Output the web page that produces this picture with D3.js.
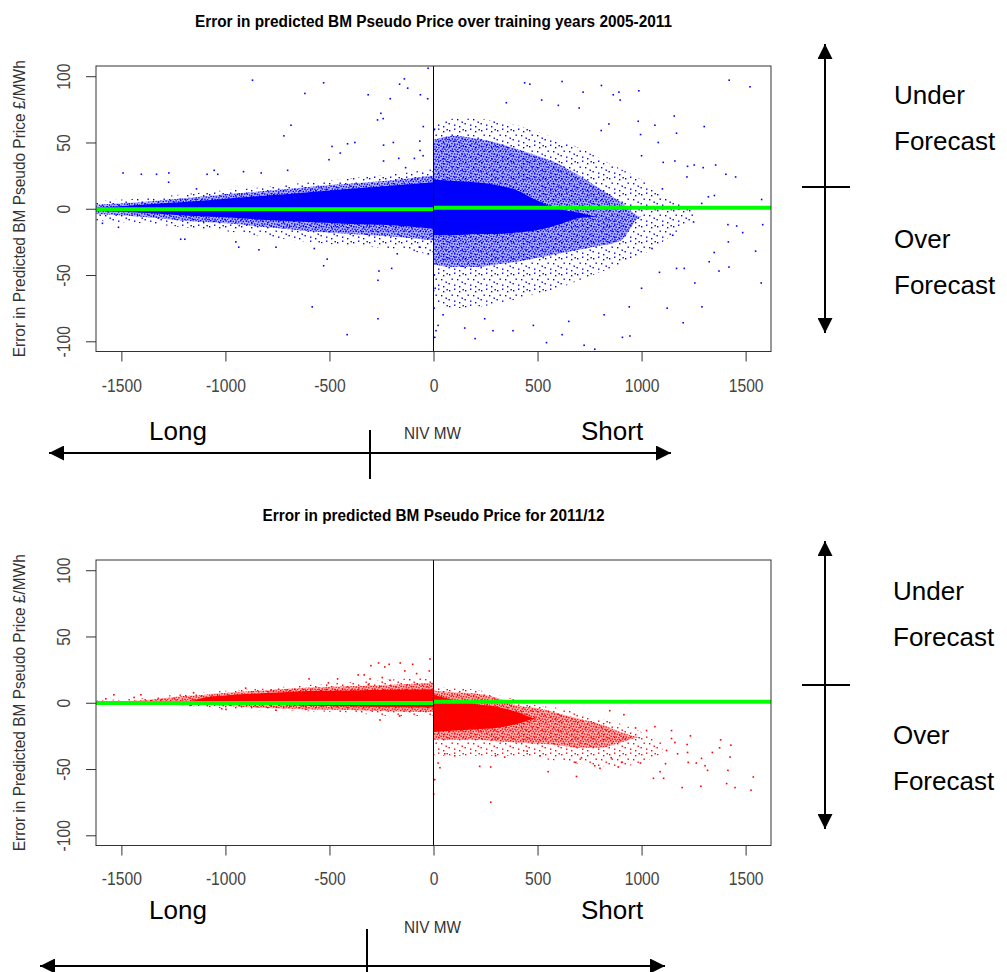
<!DOCTYPE html>
<html>
<head>
<meta charset="utf-8">
<script src="https://cdn.jsdelivr.net/npm/d3@7"></script>
<style>
  body { margin: 0; background: #fff; }
  svg { display: block; font-family: Arial, "Liberation Sans", sans-serif; }
</style>
</head>
<body>
<svg id="chart" width="1007" height="972"></svg>
<script>
// ---- axis ticks ----
const xTicks = [-1500, -1000, -500, 0, 500, 1000, 1500];
const yTicks = [-100, -50, 0, 50, 100];

// ---- training years 2005-2011 (blue cloud) ----
// density bands per NIV position: core = solid, mid = dense speckle, outer = sparse speckle
const trainLongNiv    = [-1622, -1400, -1200, -1000, -800, -600, -400, -200, 0];
const trainLongCoreHi = [0.8, 3, 5, 7.5, 10, 12.5, 15, 17.5, 20];
const trainLongCoreLo = [-1.5, -3, -5, -6.5, -8.5, -10, -11.5, -12.5, -15];
const trainLongMidHi  = [3, 5, 8, 11, 13.5, 16.5, 19, 21.5, 25];
const trainLongMidLo  = [-4, -6, -9, -11, -14, -17, -19, -21, -24];
const trainLongOutHi  = [6, 8, 11, 14, 16.5, 20, 23, 26, 30];
const trainLongOutLo  = [-9, -11, -14, -17, -21, -25, -28, -30, -35];

const trainShortNiv    = [0, 100, 200, 300, 400, 500, 600, 700, 800, 900, 1000, 1100, 1250];
const trainShortCoreHi = [22, 21, 20, 18, 14, 6, 0, -3, -6, -6, -6, -6, -6];
const trainShortCoreLo = [-20, -20, -19, -19, -18, -16, -12, -7, -6, -6, -6, -6, -6];
const trainShortMidHi  = [52, 55, 53, 50, 45, 40, 34, 25, 15, 5, -6, -6, -6];
const trainShortMidLo  = [-42, -44, -44, -42, -40, -37, -34, -31, -28, -24, -6, -6, -6];
const trainShortOutHi  = [62, 68, 68, 66, 63, 58, 52, 46, 38, 30, 22, 10, 0];
const trainShortOutLo  = [-70, -75, -74, -72, -68, -64, -60, -54, -48, -42, -35, -25, -8];

const trainGreen = [-0.3, 0.8];   // fitted level, long side / short side

const trainPoints = [
  [-870, 97], [-528, 95], [-618, 87], [-314, 86], [-208, 83], [-163, 94], [-140, 98], [-124, 91],
  [-63, 86], [-28, 83], [-26, 106], [-253, 72], [-269, 67], [-242, 68], [-685, 63], [-719, 55],
  [-378, 50], [-413, 49], [-488, 47], [-448, 42], [-240, 48], [-193, 50], [-66, 51], [-65, 44],
  [-49, 62], [-167, 38], [-240, 36], [-502, 37], [-701, 29], [-913, 28], [-828, 27], [-1054, 29],
  [-1037, 26], [-1088, 26], [-1272, 27], [-1331, 26], [-1404, 26], [-1492, 27], [-1273, 20], [-1139, 15],
  [-92, 38], [-50, 40], [-134, 31],
  [-1514, -14], [-1591, -11], [-1215, -23], [-1195, -23], [-950, -25], [-936, -29], [-839, -31], [-757, -29],
  [-573, -30], [-511, -38], [-528, -43], [-201, -45], [-262, -47], [-267, -54], [-583, -74], [-267, -83],
  [-415, -95], [-174, -34], [-25, -34], [-68, -29],
  [1421, 97], [1521, 92], [438, 95], [463, 94], [618, 96], [807, 93], [719, 88], [864, 86],
  [891, 88], [987, 89], [1157, 70], [1301, 62], [1168, 57], [1104, 35], [1221, 32], [1296, 31],
  [1356, 33], [1405, 26], [1452, 24], [1218, 24], [1160, 36], [1289, 4], [1415, -12], [1457, -13],
  [1582, -12], [1349, -33], [1548, -32], [1420, -44], [1372, -47], [1256, -56], [1290, -74], [1200, -86],
  [1123, -75], [1575, -56], [944, -96], [908, -97], [775, -106], [724, -103], [618, -95], [543, -101],
  [382, -92], [286, -92], [246, -83], [22, -88], [46, -80], [941, -74], [1086, -48], [1168, -45],
  [1205, -45], [1325, -40], [1417, -25], [1486, -18], [1321, 9], [1577, 7], [1553, 1], [1481, 1],
  [1253, 33], [1064, 63], [995, 56], [843, 64], [897, 82], [984, 66], [806, 59],
  [5, 60], [8, -60], [3, -75], [12, -92], [6, -97], [4, -50],
  [350, 80], [520, 82], [600, 78], [700, 76], [150, -90], [200, -98], [480, -88], [650, -85],
  [820, -80], [1000, -60], [1050, -30], [1100, 15], [1150, -20], [1000, 40], [1080, 50], [1250, -10],
  [1350, 10], [1180, 0]
];

// ---- 2011/12 (red cloud) ----
const testLongNiv    = [-1622, -1350, -1200, -1100, -1000, -800, -600, -400, -200, 0];
const testLongCoreHi = [0, 0, 0.5, 4, 5.5, 7.3, 8.8, 9.3, 9.8, 10];
const testLongCoreLo = [0, 0, 0.5, 0, -0.8, -1.5, -2.3, -2.8, -3.3, -3.5];
const testLongMidHi  = [0.5, 2.5, 5, 6, 7.5, 9.5, 11.5, 12.5, 13.5, 15];
const testLongMidLo  = [0, -0.5, -1, -1.5, -2.5, -4, -5, -5.5, -6.5, -7];
const testLongOutHi  = [2, 4, 7, 8, 9, 11, 13.5, 15.5, 17.5, 20];
const testLongOutLo  = [1, 0, -2, -3, -4.5, -6, -6.5, -7.5, -10, -10];

const testShortNiv    = [0, 100, 200, 300, 400, 500, 600, 700, 800, 900, 1000, 1100];
const testShortCoreHi = [6, 2, -1, -3, -7, -12, -12, -12, -12, -12, -12, -12];
const testShortCoreLo = [-22, -21, -20, -19, -16, -12, -12, -12, -12, -12, -12, -12];
const testShortMidHi  = [9, 8, 7, 4, -2, -4, -8, -12, -16, -22, -26, -26];
const testShortMidLo  = [-28, -28, -28, -29, -30, -31, -32, -34, -34, -30, -26, -26];
const testShortOutHi  = [12, 11, 10, 6, 2, -2, -4, -8, -12, -16, -22, -30];
const testShortOutLo  = [-40, -40, -40, -40, -40, -42, -44, -46, -48, -48, -45, -38];

const testGreen = [-0.1, 0.7];

const testPoints = [
  [-1575, 3], [-1536, 6], [-1439, 4], [-1406, 6], [-1355, 1.5], [-1170, -2], [-1153, 7.5], [-1018, -4.5],
  [-997, -5], [-903, 11], [-757, -5.6], [-754, -3.3], [-598, 18], [-613, -5], [-505, 15], [-461, 18],
  [-362, 21], [-333, 21], [-301, 28], [-264, 30], [-234, 27], [-213, 29], [-160, 30], [-138, 24],
  [-100, 29], [-81, 22], [-17, 33], [-20, 24], [-257, -13], [-163, -10], [-246, 19], [-209, 17],
  [-313, 13.5], [-305, 18],
  [847, -6], [915, -9], [971, -19], [1024, -21], [1064, -18], [1144, -21], [1235, -25], [1144, -27],
  [1160, -30], [1219, -31.5], [1120, -36], [1173, -38.5], [1221, -37.5], [1288, -42], [1340, -37.5], [1380, -28],
  [1429, -32], [1375, -34], [1425, -41], [1224, -45], [1263, -45.5], [1305, -47.5], [1317, -51], [1415, -51],
  [1537, -56], [1526, -66], [1449, -64], [1409, -61], [1285, -63], [1195, -64], [1106, -57], [1057, -57],
  [1115, -46], [1089, -52], [995, -45.5], [904, -45], [888, -48.5], [800, -49.5], [687, -55.6], [551, -52],
  [684, -45], [222, -48], [275, -48.5], [275, -75], [31, -49], [22, -45.5], [6, -58], [1, -69],
  [54, -38.5], [102, -40], [298, -40], [342, -41], [450, -36.5], [512, -40], [775, -47.5], [854, -41.5],
  [711, -41.5]
];

// ---------------------------------------------------------------
const svg = d3.select("#chart");
const defs = svg.append("defs");

// speckle textures for the scattered parts of the clouds
const midDots = [[0, 0], [2.6, 0.8], [5.4, 0.3], [8, 1.2], [1.2, 2.9], [4, 3.3], [6.7, 3.6], [9, 4.4],
  [0.4, 5.6], [2.9, 5.9], [5.6, 6.3], [8.2, 7.1], [1.6, 8.3], [4.3, 8.6], [6.9, 9.1]];
const sparseDots = [[1, 2], [6, 0.5], [11, 3], [14.5, 1], [3.5, 6.5], [9, 7], [13.5, 9.5], [0.5, 11],
  [6, 12.5], [11, 14]];

function speckle(id, color, size, dots, tint) {
  const p = defs.append("pattern")
    .attr("id", id)
    .attr("patternUnits", "userSpaceOnUse")
    .attr("width", size)
    .attr("height", size);
  if (tint) p.append("rect").attr("width", size).attr("height", size)
    .attr("fill", color).attr("fill-opacity", tint);
  dots.forEach(d => p.append("rect")
    .attr("x", d[0]).attr("y", d[1])
    .attr("width", 1.4).attr("height", 1.4)
    .attr("fill", color));
}

const xScale = d3.scaleLinear().domain([-1622, 1622]).range([96, 771]);

function compress(sel, k) {
  sel.each(function () {
    const w = this.getComputedTextLength();
    this.setAttribute("textLength", w * k);
    this.setAttribute("lengthAdjust", "spacingAndGlyphs");
  });
}

function panel(cfg) {
  const x = xScale;
  const y = d3.scaleLinear().domain([-107.7, 107.7]).range([cfg.bottom, cfg.top]);

  speckle(cfg.key + "-mid", cfg.color, 10, midDots, 0.3);
  speckle(cfg.key + "-sparse", cfg.color, 16, sparseDots, 0);

  defs.append("clipPath").attr("id", cfg.key + "-clip")
    .append("rect")
    .attr("x", x.range()[0]).attr("y", cfg.top)
    .attr("width", x.range()[1] - x.range()[0])
    .attr("height", cfg.bottom - cfg.top);

  const g = svg.append("g");
  const plot = g.append("g").attr("clip-path", `url(#${cfg.key}-clip)`);

  cfg.sides.forEach(s => {
    const band = (hi, lo) => d3.area()
      .x((d, i) => x(s.niv[i]))
      .y0((d, i) => y(lo[i]))
      .y1((d, i) => y(hi[i]))
      .curve(d3.curveMonotoneX)(s.niv);
    plot.append("path").attr("d", band(s.outHi, s.outLo)).attr("fill", `url(#${cfg.key}-sparse)`);
    plot.append("path").attr("d", band(s.midHi, s.midLo)).attr("fill", `url(#${cfg.key}-mid)`);
    plot.append("path").attr("d", band(s.coreHi, s.coreLo)).attr("fill", cfg.color);
  });

  plot.append("g").selectAll("rect")
    .data(cfg.points)
    .join("rect")
    .attr("x", d => x(d[0]) - 0.8)
    .attr("y", d => y(d[1]) - 0.8)
    .attr("width", 1.6)
    .attr("height", 1.6)
    .attr("fill", cfg.color);

  // fitted level (green) on each side of zero
  plot.append("line")
    .attr("x1", x(-1622)).attr("x2", x(0))
    .attr("y1", y(cfg.green[0])).attr("y2", y(cfg.green[0]))
    .attr("stroke", "#00ff00").attr("stroke-width", 4);
  plot.append("line")
    .attr("x1", x(0)).attr("x2", x(1622))
    .attr("y1", y(cfg.green[1])).attr("y2", y(cfg.green[1]))
    .attr("stroke", "#00ff00").attr("stroke-width", 4);

  // vertical line at NIV = 0
  g.append("line")
    .attr("x1", x(0)).attr("x2", x(0))
    .attr("y1", cfg.top).attr("y2", cfg.bottom)
    .attr("stroke", "#000").attr("stroke-width", 1);

  // box
  g.append("rect")
    .attr("x", x.range()[0]).attr("y", cfg.top)
    .attr("width", x.range()[1] - x.range()[0])
    .attr("height", cfg.bottom - cfg.top)
    .attr("fill", "none").attr("stroke", "#333").attr("stroke-width", 1);

  // x axis
  const xa = g.append("g")
    .attr("transform", `translate(0,${cfg.bottom})`)
    .call(d3.axisBottom(x).tickValues(xTicks).tickSize(10).tickPadding(cfg.xPad).tickFormat(d => String(d)))
    .attr("font-size", null).attr("font-family", null);
  xa.select(".domain").remove();
  xa.selectAll(".tick line").attr("stroke", "#333");
  xa.selectAll(".tick text")
    .attr("font-size", 18).attr("fill", "#444")
    .call(compress, 0.87);

  // y axis
  const ya = g.append("g")
    .attr("transform", `translate(${x.range()[0]},0)`)
    .call(d3.axisLeft(y).tickValues(yTicks).tickSize(10).tickFormat(d => String(d)))
    .attr("font-size", null).attr("font-family", null);
  ya.select(".domain").remove();
  ya.selectAll(".tick line").attr("stroke", "#333");
  ya.selectAll(".tick text")
    .attr("x", 0).attr("dy", 0)
    .attr("text-anchor", "middle")
    .attr("transform", "translate(-26,0) rotate(-90)")
    .attr("font-size", 18).attr("fill", "#444")
    .call(compress, 0.87);

  // y title
  const cy = (cfg.top + cfg.bottom) / 2;
  g.append("text")
    .attr("transform", `translate(25,${cy}) rotate(-90)`)
    .attr("text-anchor", "middle")
    .attr("font-size", 16).attr("fill", "#333")
    .attr("textLength", 297).attr("lengthAdjust", "spacingAndGlyphs")
    .text("Error in Predicted BM Pseudo Price £/MWh");

  // main title
  g.append("text")
    .attr("x", 433.5).attr("y", cfg.top - 39.5)
    .attr("text-anchor", "middle")
    .attr("font-size", 16).attr("font-weight", "bold")
    .attr("textLength", cfg.titleLen).attr("lengthAdjust", "spacingAndGlyphs")
    .text(cfg.title);
}

panel({
  key: "train", color: "#0000ff", top: 66, bottom: 351.5, xPad: 17.7,
  title: "Error in predicted BM Pseudo Price over training years 2005-2011", titleLen: 477,
  green: trainGreen, points: trainPoints,
  sides: [
    { niv: trainLongNiv, coreHi: trainLongCoreHi, coreLo: trainLongCoreLo, midHi: trainLongMidHi,
      midLo: trainLongMidLo, outHi: trainLongOutHi, outLo: trainLongOutLo },
    { niv: trainShortNiv, coreHi: trainShortCoreHi, coreLo: trainShortCoreLo, midHi: trainShortMidHi,
      midLo: trainShortMidLo, outHi: trainShortOutHi, outLo: trainShortOutLo }
  ]
});

panel({
  key: "test", color: "#ff0000", top: 560, bottom: 845.5, xPad: 16.5,
  title: "Error in predicted BM Pseudo Price for 2011/12", titleLen: 342,
  green: testGreen, points: testPoints,
  sides: [
    { niv: testLongNiv, coreHi: testLongCoreHi, coreLo: testLongCoreLo, midHi: testLongMidHi,
      midLo: testLongMidLo, outHi: testLongOutHi, outLo: testLongOutLo },
    { niv: testShortNiv, coreHi: testShortCoreHi, coreLo: testShortCoreLo, midHi: testShortMidHi,
      midLo: testShortMidLo, outHi: testShortOutHi, outLo: testShortOutLo }
  ]
});

// ---- annotation arrows and labels ----
defs.append("marker")
  .attr("id", "head")
  .attr("viewBox", "0 0 10 10")
  .attr("refX", 10).attr("refY", 5)
  .attr("markerUnits", "userSpaceOnUse")
  .attr("markerWidth", 16).attr("markerHeight", 15)
  .attr("orient", "auto-start-reverse")
  .append("path").attr("d", "M0,0 L10,5 L0,10 Z").attr("fill", "#000");

const notes = svg.append("g").attr("stroke", "#000").attr("stroke-width", 2);

function hArrow(yy, x1, x2, tickX, t1, t2) {
  notes.append("line").attr("x1", x1).attr("x2", x2).attr("y1", yy).attr("y2", yy)
    .attr("marker-start", "url(#head)").attr("marker-end", "url(#head)");
  notes.append("line").attr("x1", tickX).attr("x2", tickX).attr("y1", t1).attr("y2", t2);
}
function vArrow(xx, y1, y2, barY) {
  notes.append("line").attr("x1", xx).attr("x2", xx).attr("y1", y1).attr("y2", y2)
    .attr("marker-start", "url(#head)").attr("marker-end", "url(#head)");
  notes.append("line").attr("x1", xx - 23).attr("x2", xx + 25).attr("y1", barY).attr("y2", barY);
}

hArrow(453, 49, 671, 370, 430, 479);
hArrow(966, 40, 665, 367, 929, 975);
vArrow(825, 44, 333, 187);
vArrow(825, 541, 829, 685);

const labels = [
  ["Long", 149, 440], ["Short", 581, 440],
  ["Long", 149, 919], ["Short", 581, 919],
  ["Under", 894, 103.5], ["Forecast", 894, 149.5], ["Over", 894, 247.5], ["Forecast", 894, 293.5],
  ["Under", 893, 599.5], ["Forecast", 893, 645.5], ["Over", 893, 743.5], ["Forecast", 893, 789.5]
];
svg.append("g").selectAll("text")
  .data(labels)
  .join("text")
  .attr("x", d => d[1]).attr("y", d => d[2])
  .attr("font-size", 26).attr("fill", "#000")
  .text(d => d[0]);

[439, 933].forEach(yy => {
  svg.append("text")
    .attr("x", 404).attr("y", yy)
    .attr("font-size", 16).attr("fill", "#333")
    .attr("textLength", 57).attr("lengthAdjust", "spacingAndGlyphs")
    .text("NIV MW");
});
</script>
</body>
</html>
